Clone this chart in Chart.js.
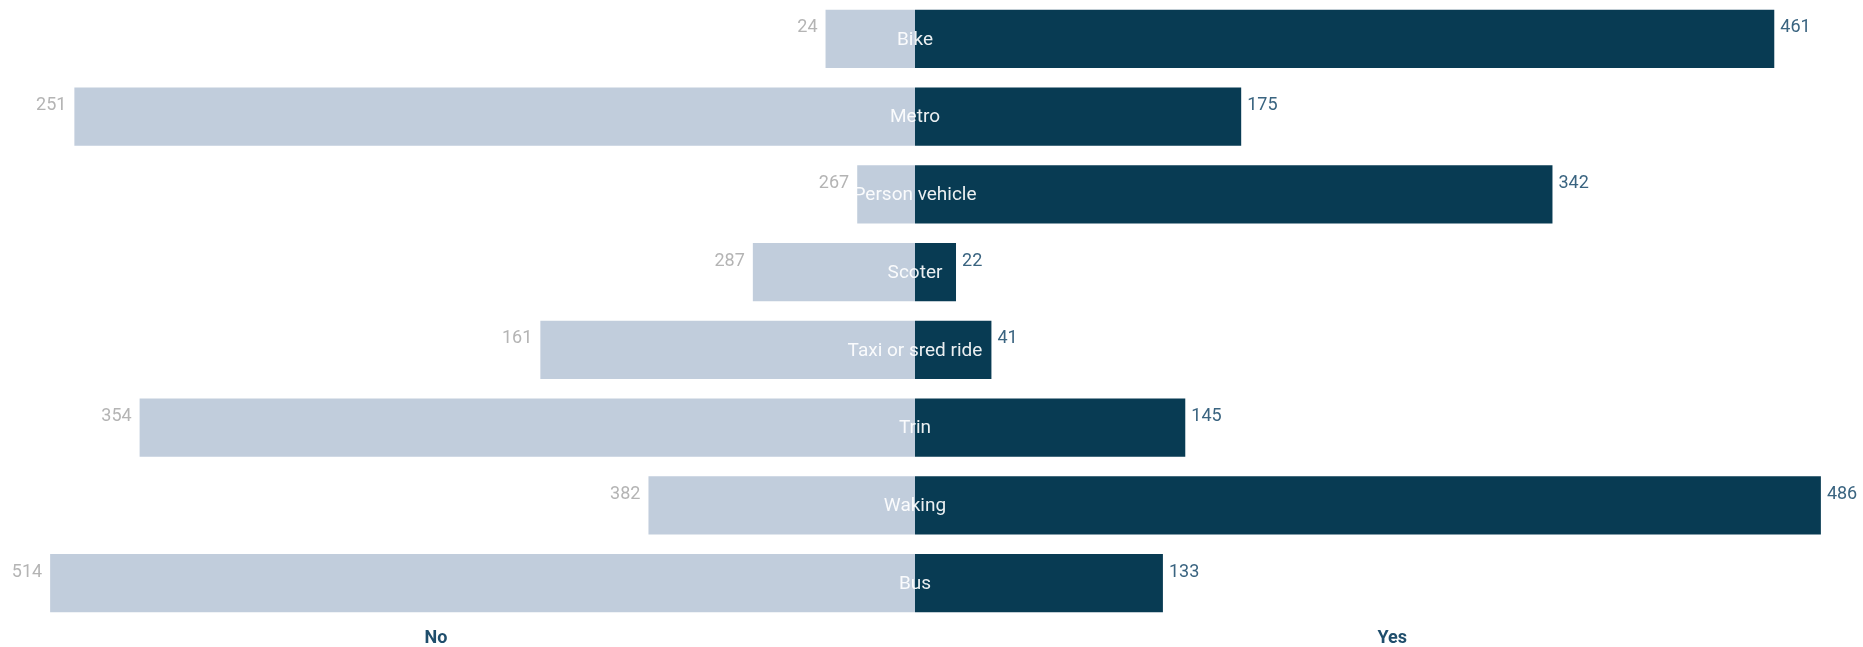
<!DOCTYPE html>
<html>
<head>
<meta charset="utf-8">
<script src="https://cdn.jsdelivr.net/npm/chart.js@4.4.1/dist/chart.umd.min.js"></script>
<style>
  html, body { margin: 0; padding: 0; background: #fff; }
  #wrap { width: 1863px; height: 647px; position: relative; }
</style>
</head>
<body>
<div id="wrap"><canvas id="canvas"></canvas></div>
<script>
const categories = ['Bike', 'Metro', 'Person vehicle', 'Scoter', 'Taxi or sred ride', 'Trin', 'Waking', 'Bus'];
const yesValues = [461, 175, 342, 22, 41, 145, 486, 133];
// bar lengths on the "No" side as drawn (they do not follow the printed numbers)
const noValues = [48, 451, 31, 87, 201, 416, 143, 464];
const noLabels = ['24', '251', '267', '287', '161', '354', '382', '514'];
const sideTitles = ['No', 'Yes'];

const FONT = 'Roboto, "DejaVu Sans", sans-serif';

const labelsPlugin = {
  id: 'labels',
  afterDatasetsDraw(chart) {
    const ctx = chart.ctx;
    const xScale = chart.scales.x;
    const noBars = chart.getDatasetMeta(0).data;
    const yesBars = chart.getDatasetMeta(1).data;
    ctx.save();
    ctx.textBaseline = 'middle';
    ctx.font = `18px ${FONT}`;

    noBars.forEach((bar, i) => {
      ctx.fillStyle = '#b4b4b4';
      ctx.textAlign = 'right';
      ctx.fillText(noLabels[i], bar.x - 8, bar.y - 11);
    });

    yesBars.forEach((bar, i) => {
      ctx.fillStyle = '#3a6480';
      ctx.textAlign = 'left';
      ctx.fillText(String(yesValues[i]), bar.x + 6, bar.y - 11);
    });

    // category names sit on the zero line
    const zero = xScale.getPixelForValue(0);
    ctx.font = `19px ${FONT}`;
    ctx.textAlign = 'center';
    ctx.fillStyle = 'rgba(255,255,255,0.92)';
    yesBars.forEach((bar, i) => {
      ctx.fillText(categories[i], zero, bar.y + 1);
    });

    ctx.font = `bold 18px ${FONT}`;
    ctx.fillStyle = '#1f4e6c';
    const ty = chart.chartArea.bottom + 16;
    ctx.fillText(sideTitles[0], xScale.getPixelForValue(-257), ty);
    ctx.fillText(sideTitles[1], xScale.getPixelForValue(256), ty);
    ctx.restore();
  }
};

const config = {
  type: 'bar',
  data: {
    labels: categories,
    datasets: [
      {
        label: sideTitles[0],
        data: noValues.map(v => -v),
        backgroundColor: '#c1cddc',
        borderWidth: 0,
      },
      {
        label: sideTitles[1],
        data: yesValues,
        backgroundColor: '#083b53',
        borderWidth: 0,
      },
    ],
  },
  options: {
    indexAxis: 'y',
    responsive: false,
    animation: false,
    layout: { padding: { left: 0, right: 0, top: 0, bottom: 25 } },
    datasets: {
      bar: { barPercentage: 0.75, categoryPercentage: 1 },
    },
    plugins: {
      legend: { display: false },
      tooltip: { enabled: false },
    },
    scales: {
      x: {
        stacked: true,
        display: false,
        min: -490.9,
        max: 508.6,
      },
      y: {
        stacked: true,
        display: false,
      },
    },
  },
  plugins: [labelsPlugin],
};

document.addEventListener('DOMContentLoaded', () => {
  const canvas = document.getElementById('canvas');
  canvas.width = 1863;
  canvas.height = 647;
  new Chart(canvas.getContext('2d'), config);
});
</script>
</body>
</html>
